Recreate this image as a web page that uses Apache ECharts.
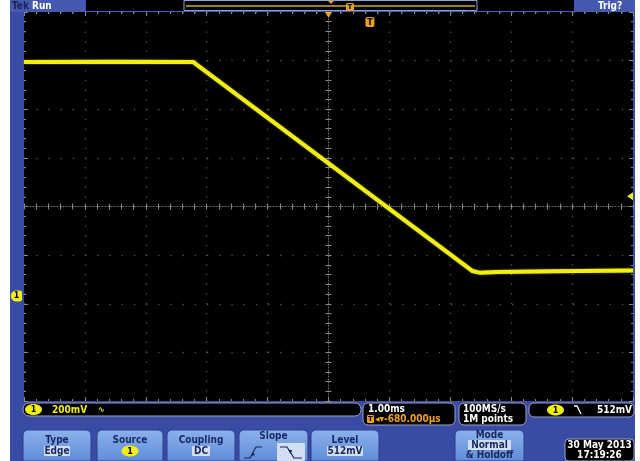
<!DOCTYPE html>
<html><head><meta charset="utf-8">
<script src="https://cdn.jsdelivr.net/npm/echarts@6/dist/echarts.min.js"></script>
<style>html,body{margin:0;padding:0;background:#fff;}#c{width:640px;height:461px;}</style>
</head><body><div id="c"></div>
<script>
const timeMs = [-5.68, -4.20, -2.90, 1.68, 1.80, 2.10, 3.00, 4.32]; // ms relative to trigger
const volts  = [0.962, 0.963, 0.962, 0.103, 0.096, 0.099, 0.102, 0.105]; // channel 1, V
// scope settings
const voltsPerDiv = 0.2;     // 200mV/div
const msPerDiv = 1.0;        // 1.00ms/div
const groundDiv = -1.84;     // channel 1 ground marker position (div from centre)
const triggerDiv = 0.68;     // trigger point position (div from centre)
const trigLevelV = 0.41;     // trigger level marker (V)
const xDivs = [-5, 5];       // 10 horizontal divisions
const yDivs = [-4, 4];       // 8 vertical divisions

const toX = t => t / msPerDiv + triggerDiv;
const toY = v => v / voltsPerDiv + groundDiv;
const trace = timeMs.map((t, i) => [toX(t), toY(volts[i])]);

const FRAME = '#3a4ba3', TOPBAR = '#4659b0', NAVY = '#17275f', HI = '#d3def2';
const ORANGE = '#f0a020', YEL = '#f2ef10', TICK = '#8a8a8a';
const F = 'bold 9px "DejaVu Sans Condensed","DejaVu Sans","Liberation Sans",sans-serif';
const FB = 'bold 10px "DejaVu Sans Condensed","DejaVu Sans","Liberation Sans",sans-serif';

const chart = echarts.init(document.getElementById('c'), null, {renderer: 'canvas'});

function edgeX(pos, split) {
  return {type: 'value', min: xDivs[0], max: xDivs[1], interval: 1, position: pos,
    axisLine: {show: false, onZero: false}, axisLabel: {show: false},
    axisTick: {show: true, inside: true, length: 4, lineStyle: {color: TICK}},
    minorTick: {show: true, splitNumber: 5, length: 2, lineStyle: {color: TICK}},
    splitLine: {show: split, lineStyle: {color: '#555', width: 1.3, type: [1.3, 8.4]}}};
}
function edgeY(pos, split) {
  return {type: 'value', min: yDivs[0], max: yDivs[1], interval: 1, position: pos,
    axisLine: {show: false, onZero: false}, axisLabel: {show: false},
    axisTick: {show: true, inside: true, length: 4, lineStyle: {color: TICK}},
    minorTick: {show: true, splitNumber: 5, length: 2, lineStyle: {color: TICK}},
    splitLine: {show: split, lineStyle: {color: '#555', width: 1.3, type: [1.3, 10.9]}}};
}
function centerX(inside) {
  return {type: 'value', min: xDivs[0], max: xDivs[1], interval: 1, position: 'bottom',
    axisLine: {show: inside, onZero: true, onZeroAxisIndex: 0, lineStyle: {color: '#6a6a6a', type: [1, 2]}},
    axisLabel: {show: false},
    axisTick: {show: true, inside: inside, length: 3, lineStyle: {color: TICK}},
    minorTick: {show: true, splitNumber: 5, length: 3, lineStyle: {color: TICK}},
    splitLine: {show: false}};
}
function centerY(inside) {
  return {type: 'value', min: yDivs[0], max: yDivs[1], interval: 1, position: 'left',
    axisLine: {show: inside, onZero: true, onZeroAxisIndex: 0, lineStyle: {color: '#6a6a6a', type: [1, 2]}},
    axisLabel: {show: false},
    axisTick: {show: true, inside: inside, length: 3, lineStyle: {color: TICK}},
    minorTick: {show: true, splitNumber: 5, length: 3, lineStyle: {color: TICK}},
    splitLine: {show: false}};
}

chart.setOption({
  animation: false,
  backgroundColor: FRAME,
  grid: {left: 24, top: 12, width: 609, height: 389, show: true, backgroundColor: '#000', borderWidth: 0},
  xAxis: [edgeX('bottom', true), edgeX('top', false), centerX(true), centerX(false)],
  yAxis: [edgeY('left', true), edgeY('right', false), centerY(true), centerY(false)],
  series: [{
    type: 'line', xAxisIndex: 0, yAxisIndex: 0, data: trace, symbol: 'none', z: 5,
    lineStyle: {color: YEL, width: 4, shadowColor: 'rgba(240,240,0,0.6)', shadowBlur: 2}
  }]
});

// ---------- screen markers, positioned through the axes ----------
const gY = chart.convertToPixel({yAxisIndex: 0}, toY(0));
const tlY = chart.convertToPixel({yAxisIndex: 0}, toY(trigLevelV));
const tX = chart.convertToPixel({xAxisIndex: 0}, toX(0));
const cX = chart.convertToPixel({xAxisIndex: 0}, 0);

function txt(x, y, s, fill, align, font) {
  return {type: 'text', x: x, y: y, z: 100, style: {text: s, fill: fill, font: font || F,
    textAlign: align || 'left', textVerticalAlign: 'middle'}};
}
function rect(x, y, w, h, fill, r, stroke, lw) {
  return {type: 'rect', z: 90, shape: {x: x, y: y, width: w, height: h, r: r || 0},
    style: {fill: fill, stroke: stroke || null, lineWidth: lw || 1}};
}
function ell(cx, cy, rx, ry, fill) {
  return {type: 'ellipse', z: 95, shape: {cx: cx, cy: cy, rx: rx, ry: ry}, style: {fill: fill}};
}
function poly(pts, stroke, lw) {
  return {type: 'polyline', z: 100, shape: {points: pts}, style: {stroke: stroke, lineWidth: lw || 1.2, fill: null}};
}
function btnGrad() {
  return new echarts.graphic.LinearGradient(0, 0, 0, 1, [{offset: 0, color: '#8cb2ec'}, {offset: 1, color: '#5f8cd8'}]);
}
function button(x, w) {
  return {type: 'rect', z: 90, shape: {x: x, y: 430, width: w, height: 31, r: [5, 5, 0, 0]},
    style: {fill: btnGrad(), stroke: '#2c3c8c', lineWidth: 1}};
}
const SMALL = 'bold 8px "DejaVu Sans",sans-serif';

const G = [];
// white margins
G.push(rect(0, 0, 10, 461, '#fff'), rect(635, 0, 5, 461, '#fff'));
// top bar
G.push(rect(10, 0, 625, 12, TOPBAR));
G.push(rect(86, 0, 488, 11, '#000'));
G.push(rect(184, 0.5, 293, 10, '#000', 0, '#8fa0c8', 1));
G.push({type: 'line', z: 95, shape: {x1: 186, y1: 6, x2: 475, y2: 6}, style: {stroke: '#c8b020', lineWidth: 1.5}});
G.push({type: 'polygon', z: 96, shape: {points: [[328, 1], [334, 1], [331, 4]]}, style: {fill: ORANGE}});
G.push(rect(346, 3, 8, 8, ORANGE, 1.5), txt(350, 7.5, 'T', '#000', 'center', 'bold 7px "DejaVu Sans",sans-serif'));
G.push(txt(12, 6, 'Tek', '#1b2258', 'left', FB), txt(32, 6, 'Run', '#fff', 'left', FB), txt(598, 6, 'Trig?', '#fff', 'left', FB));

// screen markers
G.push({type: 'polygon', z: 100, shape: {points: [[cX - 3.5, 12], [cX + 3.5, 12], [cX, 18]]}, style: {fill: ORANGE}});
G.push(rect(tX - 4.5, 17, 9, 10, ORANGE, 2), txt(tX, 22.5, 'T', '#000', 'center', SMALL));
G.push({type: 'polygon', z: 100, shape: {points: [[633, tlY - 4], [633, tlY + 4], [627, tlY]]}, style: {fill: YEL}});
G.push(rect(11, gY - 5.5, 11, 11, YEL, [5, 2, 2, 5]), txt(16.5, gY, '1', '#000', 'center', SMALL));

// status line
G.push(rect(23, 403, 338, 13, '#000', 6, '#9aa2c8'));
G.push(ell(33.5, 409.5, 8.5, 5.5, YEL), txt(33.5, 410, '1', '#000', 'center', SMALL));
G.push(txt(52, 410, '200mV', YEL, 'left', FB), txt(98, 410, '∿', YEL, 'left', SMALL));
G.push(rect(363, 403, 92, 22, '#000', 5, '#9aa2c8'));
G.push(txt(368, 409, '1.00ms', '#fff', 'left', FB));
G.push(rect(367, 415, 7, 8, ORANGE, 1), txt(370.5, 419.5, 'T', '#000', 'center', 'bold 7px "DejaVu Sans",sans-serif'));
G.push(txt(375, 419.5, '◂▾-680.000µs', ORANGE, 'left', FB));
G.push(rect(459, 403, 67, 22, '#000', 5, '#9aa2c8'));
G.push(txt(463, 409, '100MS/s', '#fff', 'left', FB), txt(463, 419.5, '1M points', '#fff', 'left', FB));
G.push(rect(529, 403, 105, 14, '#000', 5, '#9aa2c8'));
G.push(ell(555.5, 410, 8.5, 5.5, YEL), txt(555.5, 410.5, '1', '#000', 'center', SMALL));
G.push(poly([[574, 406], [577, 406], [581, 414]], '#fff', 1.3));
G.push(txt(632, 410, '512mV', '#fff', 'right', FB));

// buttons
G.push(button(23, 68), txt(57, 440, 'Type', NAVY, 'center', FB), rect(44, 446, 26, 10, HI, 1), txt(57, 451, 'Edge', NAVY, 'center', FB));
G.push(button(97, 66), txt(130, 440, 'Source', NAVY, 'center', FB), ell(130, 451, 8.5, 5.5, YEL), txt(130, 451.5, '1', '#000', 'center', SMALL));
G.push(button(167, 68), txt(201, 440, 'Coupling', NAVY, 'center', FB), rect(192, 446, 18, 10, HI, 1), txt(201, 451, 'DC', NAVY, 'center', FB));
G.push(button(239, 69), txt(273.5, 436, 'Slope', NAVY, 'center', FB));
G.push(poly([[244, 458], [250, 458], [256, 447], [262, 447]], NAVY, 1.2));
G.push({type: 'polygon', z: 100, shape: {points: [[251, 456], [255, 455], [253, 452]]}, style: {fill: NAVY}});
G.push(rect(277, 443, 28, 18, HI, 1));
G.push(poly([[280, 447], [287, 447], [294, 458], [302, 458]], NAVY, 1.2));
G.push({type: 'polygon', z: 100, shape: {points: [[288, 450], [292, 450], [291, 454]]}, style: {fill: NAVY}});
G.push(button(311, 68), txt(345, 440, 'Level', NAVY, 'center', FB), rect(327, 446, 36, 10, HI, 1), txt(345, 451, '512mV', NAVY, 'center', FB));
G.push(button(455, 69), txt(489.5, 435, 'Mode', NAVY, 'center', FB), rect(468, 440, 43, 10, HI, 1), txt(489.5, 445, 'Normal', NAVY, 'center', FB), txt(489.5, 455.5, '& Holdoff', NAVY, 'center', FB));
// date
G.push(rect(565, 439, 69, 22, '#000', 4, '#9aa2c8'));
G.push(txt(599.5, 445, '30 May 2013', '#fff', 'center', FB), txt(599.5, 455, '17:19:26', '#fff', 'center', FB));

chart.setOption({graphic: {elements: G}});
</script>
</body></html>
